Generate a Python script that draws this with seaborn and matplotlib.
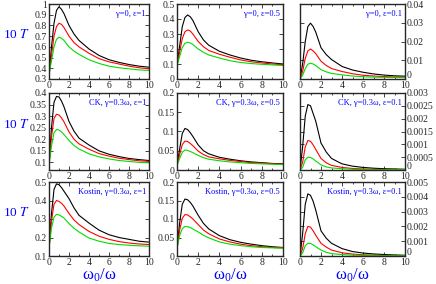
import matplotlib
matplotlib.use('Agg')
import matplotlib.pyplot as plt
import matplotlib.transforms as mtransforms
import seaborn as sns
import pandas as pd
from matplotlib.ticker import MultipleLocator, FuncFormatter

sns.set_style('ticks')
plt.rcParams['font.family'] = ['Liberation Serif', 'DejaVu Serif']
plt.rcParams['mathtext.fontset'] = 'stix'

# omega_0 / omega sample points
x = [0, 0.25, 0.5, 0.75, 1, 1.25, 1.5, 2, 2.5, 3, 4, 5, 6, 7, 8, 9, 10]

# each panel: [black, red, green]
t_g0_e1 = [
    [0.33, 0.60, 0.82, 0.94, 0.975, 0.95, 0.91, 0.80, 0.72, 0.66, 0.58, 0.52, 0.48, 0.455, 0.435, 0.42, 0.41],
    [0.33, 0.52, 0.70, 0.79, 0.82, 0.81, 0.78, 0.70, 0.64, 0.60, 0.54, 0.49, 0.46, 0.44, 0.42, 0.405, 0.395],
    [0.34, 0.47, 0.60, 0.67, 0.69, 0.68, 0.66, 0.60, 0.56, 0.53, 0.48, 0.445, 0.42, 0.405, 0.395, 0.385, 0.38],
]
t_g0_e05 = [
    [0.09, 0.22, 0.35, 0.41, 0.427, 0.415, 0.39, 0.315, 0.26, 0.225, 0.185, 0.16, 0.14, 0.125, 0.115, 0.107, 0.10],
    [0.09, 0.18, 0.27, 0.315, 0.327, 0.32, 0.30, 0.25, 0.215, 0.19, 0.165, 0.145, 0.127, 0.115, 0.107, 0.10, 0.095],
    [0.09, 0.15, 0.21, 0.238, 0.245, 0.24, 0.23, 0.20, 0.178, 0.16, 0.14, 0.122, 0.11, 0.103, 0.098, 0.094, 0.09],
]
t_g0_e01 = [
    [0, 0.008, 0.020, 0.028, 0.0298, 0.028, 0.025, 0.0167, 0.013, 0.0104, 0.0067, 0.0048, 0.0036, 0.0027, 0.0021, 0.0017, 0.0015],
    [0, 0.004, 0.011, 0.015, 0.016, 0.015, 0.0135, 0.0095, 0.0072, 0.0056, 0.004, 0.0028, 0.002, 0.0016, 0.0013, 0.0011, 0.001],
    [0, 0.002, 0.0055, 0.0079, 0.0084, 0.008, 0.0072, 0.005, 0.0038, 0.003, 0.0022, 0.0016, 0.0012, 0.001, 0.0009, 0.0008, 0.0007],
]
t_ck_e1 = [
    [0.09, 0.25, 0.36, 0.385, 0.383, 0.365, 0.34, 0.277, 0.235, 0.205, 0.175, 0.15, 0.135, 0.125, 0.117, 0.112, 0.108],
    [0.09, 0.21, 0.29, 0.308, 0.305, 0.292, 0.275, 0.232, 0.20, 0.18, 0.157, 0.138, 0.127, 0.118, 0.112, 0.107, 0.104],
    [0.09, 0.17, 0.228, 0.242, 0.24, 0.232, 0.22, 0.195, 0.173, 0.158, 0.137, 0.124, 0.115, 0.108, 0.104, 0.10, 0.098],
]
t_ck_e05 = [
    [0.012, 0.055, 0.095, 0.108, 0.105, 0.097, 0.087, 0.065, 0.05, 0.042, 0.033, 0.028, 0.024, 0.021, 0.019, 0.017, 0.016],
    [0.012, 0.04, 0.066, 0.075, 0.074, 0.069, 0.063, 0.049, 0.04, 0.034, 0.029, 0.025, 0.022, 0.019, 0.018, 0.016, 0.015],
    [0.012, 0.03, 0.046, 0.052, 0.051, 0.048, 0.045, 0.038, 0.032, 0.028, 0.024, 0.021, 0.019, 0.017, 0.016, 0.015, 0.014],
]
t_ck_e01 = [
    [0, 0.0009, 0.0021, 0.00255, 0.0025, 0.0022, 0.0019, 0.00105, 0.0007, 0.00045, 0.00024, 0.00015, 0.0001, 0.00007, 0.00005, 0.00004, 0.00003],
    [0, 0.0003, 0.0009, 0.00115, 0.00112, 0.00098, 0.0008, 0.00045, 0.00028, 0.00018, 0.0001, 0.00006, 0.00004, 0.00003, 0.00002, 0.00002, 0.00001],
    [0, 0.0001, 0.0004, 0.0005, 0.00049, 0.00043, 0.00035, 0.0002, 0.00012, 0.00008, 0.00005, 0.00003, 0.00002, 0.00001, 0.00001, 0.00001, 0.00001],
]
t_ko_e1 = [
    [0.14, 0.33, 0.46, 0.49, 0.485, 0.47, 0.45, 0.41, 0.36, 0.32, 0.278, 0.24, 0.215, 0.2, 0.19, 0.18, 0.175],
    [0.14, 0.29, 0.38, 0.40, 0.395, 0.385, 0.37, 0.33, 0.295, 0.27, 0.233, 0.207, 0.19, 0.178, 0.17, 0.165, 0.162],
    [0.14, 0.25, 0.31, 0.325, 0.322, 0.315, 0.305, 0.275, 0.25, 0.23, 0.197, 0.18, 0.168, 0.162, 0.158, 0.155, 0.153],
]
t_ko_e05 = [
    [0.02, 0.09, 0.14, 0.154, 0.152, 0.145, 0.135, 0.11, 0.088, 0.073, 0.055, 0.044, 0.037, 0.032, 0.028, 0.025, 0.023],
    [0.02, 0.07, 0.102, 0.112, 0.111, 0.106, 0.1, 0.085, 0.07, 0.06, 0.046, 0.038, 0.032, 0.028, 0.025, 0.023, 0.022],
    [0.02, 0.055, 0.074, 0.08, 0.079, 0.077, 0.073, 0.065, 0.056, 0.049, 0.038, 0.032, 0.028, 0.025, 0.023, 0.022, 0.021],
]
t_ko_e01 = [
    [0, 0.0015, 0.0035, 0.0042, 0.0041, 0.0037, 0.0031, 0.0017, 0.0012, 0.00086, 0.0005, 0.0003, 0.0002, 0.00014, 0.0001, 0.00007, 0.00005],
    [0, 0.0005, 0.0015, 0.002, 0.00195, 0.0017, 0.0014, 0.00086, 0.0006, 0.0004, 0.00022, 0.00013, 0.00008, 0.00006, 0.00004, 0.00003, 0.00003],
    [0, 0.0002, 0.0007, 0.00086, 0.00085, 0.00075, 0.00063, 0.0004, 0.00025, 0.00016, 0.0001, 0.00006, 0.00004, 0.00003, 0.00002, 0.00002, 0.00001],
]

panels = [
    [t_g0_e1, t_g0_e05, t_g0_e01],
    [t_ck_e1, t_ck_e05, t_ck_e01],
    [t_ko_e1, t_ko_e05, t_ko_e01],
]
titles = [
    ['γ=0, ε=1', 'γ=0, ε=0.5', 'γ=0, ε=0.1'],
    ['CK, γ=0.3ω, ε=1', 'CK, γ=0.3ω, ε=0.5', 'CK, γ=0.3ω, ε=0.1'],
    ['Kostin, γ=0.3ω, ε=1', 'Kostin, γ=0.3ω, ε=0.5', 'Kostin, γ=0.3ω, ε=0.1'],
]
ylims = [
    [(0.3, 1.0), (0, 0.5), (0, 0.04)],
    [(0.067, 0.4), (0, 0.2), (0, 0.003)],
    [(0.1, 0.5), (0, 0.2), (0, 0.005)],
]
ysteps = [
    [0.1, 0.1, 0.01],
    [0.05, 0.05, 0.0005],
    [0.1, 0.05, 0.001],
]
curve_colors = ['black', 'red', '#00dd00']

fig = plt.figure(figsize=(4.36, 2.84), dpi=100)
W, H = 436.0, 284.0
lefts = [49, 177, 300]
widths = [100, 106, 105]
tops = [4, 93, 182]
heights = [75, 77, 74]

fmt = FuncFormatter(lambda v, p: f"{round(v, 6):g}")
right_axes = []

for r in range(3):
    for c in range(3):
        ax = fig.add_axes([lefts[c] / W, 1 - (tops[r] + heights[r]) / H,
                           widths[c] / W, heights[r] / H])
        rows = []
        for k, ys in enumerate(panels[r][c]):
            for xv, yv in zip(x, ys):
                rows.append({'x': xv, 'T': yv, 'curve': k})
        df = pd.DataFrame(rows)
        sns.lineplot(data=df, x='x', y='T', hue='curve', palette=curve_colors,
                     legend=False, ax=ax, linewidth=0.8, sort=False)
        ax.set_xlim(0, 10)
        ax.set_ylim(*ylims[r][c])
        ax.xaxis.set_major_locator(MultipleLocator(2))
        ax.xaxis.set_minor_locator(MultipleLocator(1))
        ax.yaxis.set_major_locator(MultipleLocator(ysteps[r][c]))
        ax.yaxis.set_major_formatter(fmt)
        ax.tick_params(which='both', direction='in', top=True, right=True,
                       labelsize=7, pad=1.5, width=0.6)
        ax.tick_params(which='major', length=3)
        ax.tick_params(which='minor', length=1.5)
        for s in ax.spines.values():
            s.set_linewidth(1.0)
        if c == 2:
            ax.tick_params(labelleft=False, labelright=True)
            right_axes.append(ax)
        if r < 2:
            ax.set_xlabel('')
        else:
            ax.set_xlabel(r'ω$_\mathregular{0}$/ω', color='blue', fontsize=12, labelpad=0)
        if c == 0:
            ax.set_ylabel('10 $T$', color='blue', fontsize=9.5, rotation=0)
            ax.yaxis.set_label_coords(-0.33, 0.5)
        else:
            ax.set_ylabel('')
        ax.text(0.97, 0.92, titles[r][c], transform=ax.transAxes, ha='right',
                va='top', color='blue', fontsize=6)

# the "0" on the right-hand axes sits a little raised, as in the original
fig.canvas.draw()
shift = mtransforms.ScaledTranslation(0, 3 / 72, fig.dpi_scale_trans)
for ax in right_axes:
    for t in ax.yaxis.get_major_ticks():
        if abs(t.get_loc()) < 1e-12:
            t.label2.set_transform(t.label2.get_transform() + shift)

fig.savefig('out.png', dpi=100)
